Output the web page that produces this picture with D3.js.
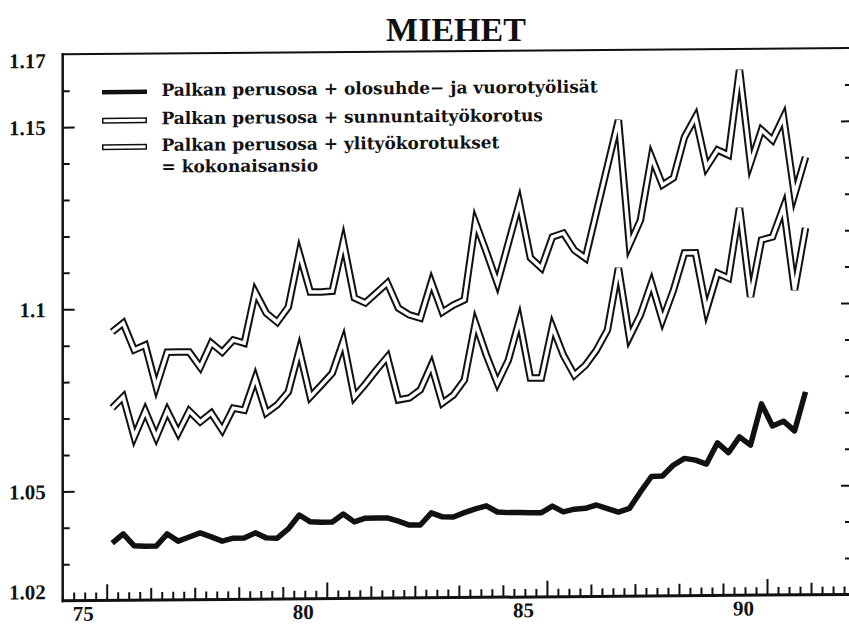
<!DOCTYPE html>
<html><head><meta charset="utf-8">
<script src="https://cdn.jsdelivr.net/npm/d3@7"></script>
<style>html,body{margin:0;padding:0;background:#fff;} svg{display:block;}</style>
</head><body>
<svg id="chart" width="849" height="626"></svg>
<script>
const title = "MIEHET";
const quarters = [
 "1975Q1","1975Q2","1975Q3","1975Q4","1976Q1","1976Q2","1976Q3","1976Q4",
 "1977Q1","1977Q2","1977Q3","1977Q4","1978Q1","1978Q2","1978Q3","1978Q4",
 "1979Q1","1979Q2","1979Q3","1979Q4","1980Q1","1980Q2","1980Q3","1980Q4",
 "1981Q1","1981Q2","1981Q3","1981Q4","1982Q1","1982Q2","1982Q3","1982Q4",
 "1983Q1","1983Q2","1983Q3","1983Q4","1984Q1","1984Q2","1984Q3","1984Q4",
 "1985Q1","1985Q2","1985Q3","1985Q4","1986Q1","1986Q2","1986Q3","1986Q4",
 "1987Q1","1987Q2","1987Q3","1987Q4","1988Q1","1988Q2","1988Q3","1988Q4",
 "1989Q1","1989Q2","1989Q3","1989Q4","1990Q1","1990Q2","1990Q3","1990Q4"];
const perusOlosuhde = [
 1.0357,1.0382,1.0349,1.0348,1.0348,1.0381,1.0361,1.0372,1.0383,1.0372,1.0360,1.0368,1.0368,1.0382,1.0368,1.0367,
 1.0392,1.0430,1.0411,1.0410,1.0410,1.0432,1.0410,1.0420,1.0420,1.0420,1.0411,1.0400,1.0400,1.0433,1.0422,1.0421,
 1.0433,1.0443,1.0451,1.0434,1.0432,1.0432,1.0431,1.0431,1.0449,1.0433,1.0440,1.0442,1.0451,1.0441,1.0431,1.0441,
 1.0486,1.0528,1.0529,1.0559,1.0577,1.0572,1.0561,1.0619,1.0592,1.0635,1.0612,1.0725,1.0664,1.0677,1.0650,1.0757];
const perusSunnuntai = [
 1.0728,1.0758,1.0648,1.0719,1.0647,1.0719,1.0658,1.0718,1.0688,1.0712,1.0665,1.0725,1.0719,1.0807,1.0711,1.0733,
 1.0768,1.0883,1.0754,1.0786,1.0819,1.0907,1.0753,1.0788,1.0826,1.0862,1.0744,1.0749,1.0771,1.0839,1.0734,1.0756,
 1.0797,1.0953,1.0865,1.0788,1.0851,1.0960,1.0801,1.0801,1.0941,1.0863,1.0808,1.0835,1.0876,1.0931,1.1101,1.0911,
 1.0972,1.1059,1.0957,1.1039,1.1141,1.1141,1.0984,1.1085,1.1071,1.1263,1.1019,1.1175,1.1183,1.1265,1.1037,1.1207];
const kokonaisansio = [
 1.0937,1.0961,1.0887,1.0900,1.0785,1.0880,1.0880,1.0880,1.0838,1.0904,1.0879,1.0912,1.0903,1.1043,1.0985,1.0960,
 1.1001,1.1149,1.1042,1.1042,1.1044,1.1179,1.1025,1.1011,1.1038,1.1065,1.0996,1.0977,1.0968,1.1067,1.0984,1.1003,
 1.1017,1.1230,1.1148,1.1062,1.1172,1.1282,1.1131,1.1103,1.1188,1.1198,1.1151,1.1129,1.1255,1.1381,1.1507,1.1164,
 1.1232,1.1405,1.1328,1.1347,1.1459,1.1514,1.1376,1.1423,1.1409,1.1642,1.1386,1.1477,1.1449,1.1512,1.1298,1.1402];
const yTickValues = [1.02, 1.05, 1.1, 1.15, 1.17];
const yTickLabels = ["1.02", "1.05", "1.1", "1.15", "1.17"];
const xTickValues = [1975, 1980, 1985, 1990];
const xTickLabels = ["75", "80", "85", "90"];
const legendLabels = [
 "Palkan perusosa + olosuhde\u2212 ja vuorotyölisät",
 "Palkan perusosa + sunnuntaityökorotus",
 "Palkan perusosa + ylityökorotukset",
 "= kokonaisansio"];

const W = 849, H = 626;
const svg = d3.select("#chart");
svg.append("rect").attr("width", W).attr("height", H).attr("fill", "#fff");

const x = d3.scaleLinear().domain([1975, 1990]).range([106.7, 767]);
const y = d3.scaleLinear().domain([1.02, 1.17]).range([600.7, 54.3]);
const x0 = 62.7, xRight = 850;

// time value of a quarter label: centre of the quarter
const tOf = q => +q.slice(0, 4) + (+q.slice(5) - 1) / 4 + 0.125;

svg.append("text").text(title)
  .attr("x", 456).attr("y", 41).attr("text-anchor", "middle")
  .attr("font-family", "'Liberation Serif', 'Times New Roman', serif")
  .attr("font-weight", "bold").attr("font-size", 34).attr("fill", "#111");

const skew = 0.008;
const g = svg.append("g").attr("transform", `matrix(1,${-skew},0,1,0,${skew * x0})`);

const axisStyle = sel => {
  sel.select(".domain").remove();
  sel.selectAll(".tick line").attr("stroke", "#111").attr("stroke-width", 2);
};

// left axis ticks (inward)
const yMinor = d3.range(1.03, 1.165, 0.01).map(v => +v.toFixed(2));
const yMajor = [1.05, 1.1, 1.15];
g.append("g").attr("transform", `translate(${x0},0)`)
  .call(d3.axisRight(y).tickValues(yMinor.filter(v => !yMajor.includes(v))).tickSize(7).tickSizeOuter(0).tickFormat(""))
  .call(axisStyle);
g.append("g").attr("transform", `translate(${x0},0)`)
  .call(d3.axisRight(y).tickValues(yMajor).tickSize(12).tickSizeOuter(0).tickFormat(""))
  .call(axisStyle);
// right side ticks (inward)
g.append("g").attr("transform", `translate(${xRight},0)`)
  .call(d3.axisLeft(y).tickValues(yMinor.filter(v => !yMajor.includes(v))).tickSize(5).tickSizeOuter(0).tickFormat(""))
  .call(axisStyle);
g.append("g").attr("transform", `translate(${xRight},0)`)
  .call(d3.axisLeft(y).tickValues(yMajor).tickSize(9).tickSizeOuter(0).tickFormat(""))
  .call(axisStyle);

// y labels
const yLab = g.append("g").attr("transform", `translate(${x0},0)`)
  .call(d3.axisLeft(y).tickValues(yTickValues).tickSize(0).tickPadding(17)
    .tickFormat((d, i) => yTickLabels[i]));
yLab.select(".domain").remove();
yLab.selectAll("text")
  .attr("font-family", "'Liberation Serif', 'Times New Roman', serif")
  .attr("font-weight", "bold").attr("font-size", 21).attr("fill", "#111")
  .attr("dy", d => d === 1.17 ? "0.62em" : d === 1.02 ? "-0.1em" : "0.34em");

// x axis ticks (upward)
const xQuarter = d3.range(74.25 + 1900, 1991.9, 0.25).map(v => +v.toFixed(2));
const xYear = xQuarter.filter(v => Number.isInteger(v));
const xFive = xYear.filter(v => v % 5 === 0);
g.append("g").attr("transform", `translate(0,${y(1.02)})`)
  .call(d3.axisTop(x).tickValues(xQuarter.filter(v => !Number.isInteger(v))).tickSize(8).tickSizeOuter(0).tickFormat(""))
  .call(axisStyle);
g.append("g").attr("transform", `translate(0,${y(1.02)})`)
  .call(d3.axisTop(x).tickValues(xYear.filter(v => v % 5 !== 0)).tickSize(12).tickSizeOuter(0).tickFormat(""))
  .call(axisStyle);
g.append("g").attr("transform", `translate(0,${y(1.02)})`)
  .call(d3.axisTop(x).tickValues(xFive).tickSize(16).tickSizeOuter(0).tickFormat(""))
  .call(axisStyle);
const xLab = g.append("g").attr("transform", `translate(0,${y(1.02)})`)
  .call(d3.axisBottom(x).tickValues(xTickValues).tickSize(0).tickPadding(0)
    .tickFormat((d, i) => xTickLabels[i]));
xLab.select(".domain").remove();
xLab.selectAll("text")
  .attr("font-family", "'Liberation Serif', 'Times New Roman', serif")
  .attr("font-weight", "bold").attr("font-size", 21).attr("fill", "#111")
  .attr("y", 13).attr("dy", "0.34em").attr("dx", -24);

// frame lines
g.append("line").attr("x1", x0).attr("x2", x0).attr("y1", y(1.17) - 1).attr("y2", y(1.02) + 1.5)
  .attr("stroke", "#111").attr("stroke-width", 2.5);
g.append("line").attr("x1", x0 - 1).attr("x2", W + 2).attr("y1", y(1.02)).attr("y2", y(1.02))
  .attr("stroke", "#111").attr("stroke-width", 3);
g.append("line").attr("x1", x0 - 1).attr("x2", W + 2).attr("y1", y(1.17)).attr("y2", y(1.17))
  .attr("stroke", "#111").attr("stroke-width", 2);

// series
const line = d3.line().x(d => x(d.t)).y(d => y(d.v));
const mk = arr => quarters.map((q, i) => ({t: tOf(q), v: arr[i]}));

[kokonaisansio, perusSunnuntai].forEach(arr => {
  g.append("path").datum(mk(arr)).attr("d", line).attr("fill", "none")
    .attr("stroke", "#111").attr("stroke-width", 7.5)
    .attr("stroke-linejoin", "miter").attr("stroke-miterlimit", 5);
  g.append("path").datum(mk(arr)).attr("d", line).attr("fill", "none")
    .attr("stroke", "#fff").attr("stroke-width", 3.5)
    .attr("stroke-linejoin", "miter").attr("stroke-miterlimit", 5);
});
g.append("path").datum(mk(perusOlosuhde)).attr("d", line).attr("fill", "none")
  .attr("stroke", "#111").attr("stroke-width", 5.5).attr("stroke-linejoin", "round");

// legend
const lg = g.append("g");
const rowsY = [96.7, 125, 151.7, 173.3];
legendLabels.forEach((t, i) => {
  lg.append("text").text(t).attr("x", 161.5).attr("y", rowsY[i])
    .attr("font-family", "'DejaVu Serif', serif").attr("font-weight", "bold")
    .attr("font-size", 17).attr("fill", "#111");
});
lg.append("line").attr("x1", 102).attr("x2", 147).attr("y1", 92.5).attr("y2", 92.5)
  .attr("stroke", "#111").attr("stroke-width", 4.5);
[121, 147.5].forEach(yy => {
  lg.append("line").attr("x1", 102).attr("x2", 147).attr("y1", yy).attr("y2", yy)
    .attr("stroke", "#111").attr("stroke-width", 6);
  lg.append("line").attr("x1", 103.5).attr("x2", 145.5).attr("y1", yy).attr("y2", yy)
    .attr("stroke", "#fff").attr("stroke-width", 3);
});
</script>
</body></html>
